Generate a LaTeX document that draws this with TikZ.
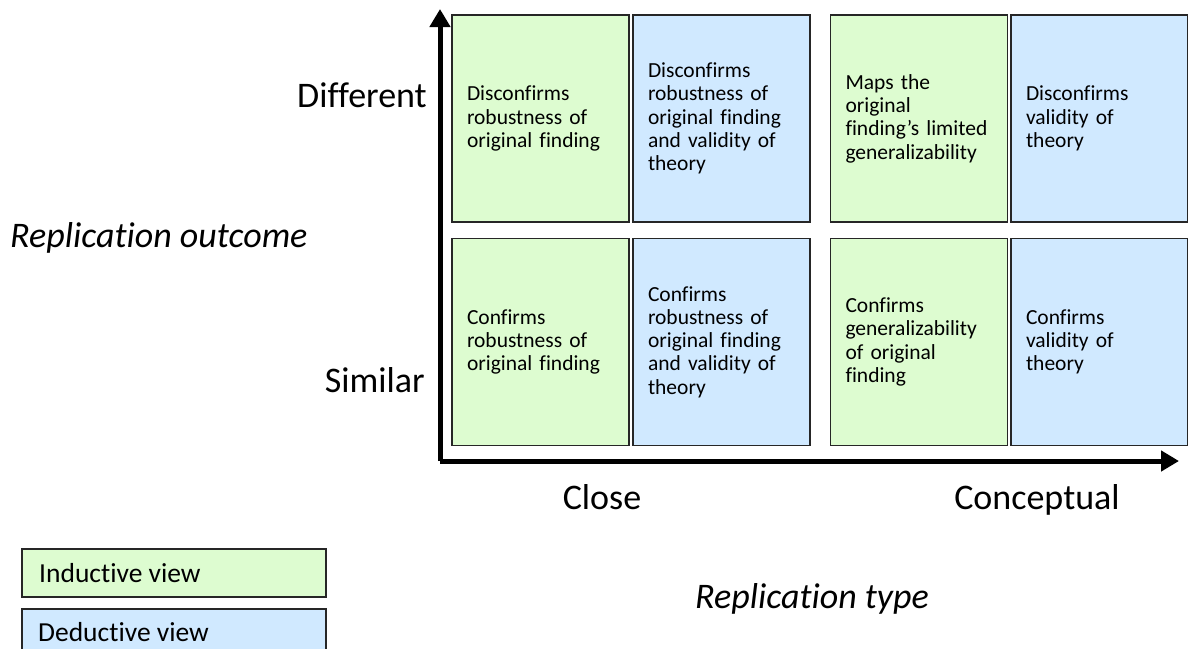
\documentclass[tikz,border=0pt]{standalone}
\usepackage{fontspec}
\setmainfont{Carlito}[Ligatures=NoCommon]
\usetikzlibrary{arrows.meta}
\definecolor{indgreen}{RGB}{221,252,208}
\definecolor{dedblue}{RGB}{208,233,255}
\tikzset{
  cell/.style={draw=black!85, line width=1.6pt, rectangle, minimum width=177pt, minimum height=207pt,
    text width=147pt, inner xsep=15pt, inner ysep=0pt, align=left,
    font=\fontsize{21.5}{23.3}\selectfont},
  ind/.style={cell, fill=indgreen},
  ded/.style={cell, fill=dedblue},
  biglabel/.style={font=\fontsize{36}{42}\selectfont, inner sep=0pt},
  axis/.style={line width=5pt, -{Triangle[width=20pt,length=18pt]}},
  legendbox/.style={draw=black!85, line width=1.6pt},
  legendtext/.style={font=\fontsize{27.5}{32}\selectfont, inner sep=0pt, anchor=base west}
}
\begin{document}
\begin{tikzpicture}[x=1pt,y=-1pt]
\useasboundingbox (0,0) rectangle (1188,648);
% cells
\node[ind] (c11) at (540.5,118.5) {Disconfirms\\robustness of\\original finding};
\node[ded] (c12) at (721.5,118.5) {Disconfirms\\robustness of\\original finding\\and validity of\\theory};
\node[ind] (c13) at (919,118.5) {Maps the\\original\\finding’s limited\\generalizability};
\node[ded] (c14) at (1099.5,118.5) {Disconfirms\\validity of\\theory};
\node[ind] (c21) at (540.5,342) {Confirms\\robustness of\\original finding};
\node[ded] (c22) at (721.5,342) {Confirms\\robustness of\\original finding\\and validity of\\theory};
\node[ind] (c23) at (919,342) {Confirms\\generalizability\\of original\\finding};
\node[ded] (c24) at (1099.5,342) {Confirms\\validity of\\theory};
% axes
\coordinate (origin) at (440,461);
\coordinate (ytip) at (440,9);
\coordinate (xtip) at (1179,461);
\draw[axis] (origin) -- (ytip);
\draw[axis] (origin) -- (xtip);
% axis labels
\node[biglabel, anchor=base east] (diff) at (427,107) {Different};
\node[biglabel, anchor=base east] (sim) at (425,392) {Similar};
\node[biglabel, anchor=base west] (rout) at (10,247) {\itshape Replication outcome};
\node[biglabel, anchor=base] (close) at (602,509) {Close};
\node[biglabel, anchor=base] (conc) at (1037,509) {Conceptual};
\node[biglabel, anchor=base] (rtype) at (812,608) {\itshape Replication type};
% legend
\draw[legendbox, fill=indgreen] (22,549) rectangle (326,597);
\node[legendtext] (lind) at (39,582.5) {Inductive view};
\draw[legendbox, fill=dedblue] (22,609) rectangle (326,665);
\node[legendtext] (lded) at (38,641.5) {Deductive view};
\end{tikzpicture}
\end{document}
